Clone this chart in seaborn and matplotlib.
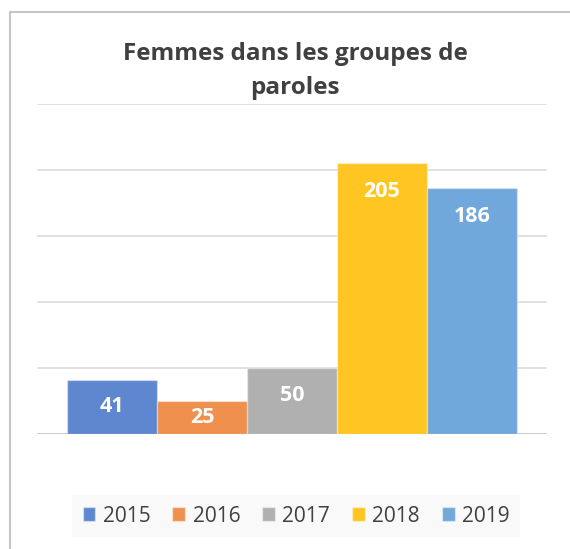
import matplotlib
matplotlib.use("Agg")
import matplotlib.pyplot as plt
from matplotlib.patches import Patch
from matplotlib.lines import Line2D
import seaborn as sns
import pandas as pd

# Data
years = ["2015", "2016", "2017", "2018", "2019"]
values = [41, 25, 50, 205, 186]
colors = ["#5f87cf", "#f0904f", "#b0b0b0", "#ffc623", "#70a8db"]
title = "Femmes dans les groupes de\nparoles"
y_ticks = [0, 50, 100, 150, 200, 250]

sns.set_theme(style="white")
plt.rcParams["font.family"] = ["Open Sans", "DejaVu Sans"]

df = pd.DataFrame({"annee": years, "valeur": values})

fig = plt.figure(figsize=(5.70, 5.49), dpi=100)
ax = fig.add_axes([37 / 570, 1 - 434 / 549, 510 / 570, 330 / 549])

sns.barplot(data=df, x="annee", y="valeur", hue="annee", palette=colors,
            width=1.0, saturation=1, legend=False, ax=ax,
            edgecolor=(1, 1, 1, 0.35), linewidth=1, zorder=3)

ax.set_ylim(0, 250)
ax.set_xlim(-0.5 - 1 / 3, 4.5 + 1 / 3)
for t in y_ticks:
    ax.axhline(t, color="#d9d9d9" if t else "#bfbfbf", lw=1.1, zorder=1)
ax.set_yticks([])
ax.set_xticks([])
ax.set_xlabel("")
ax.set_ylabel("")
for s in ax.spines.values():
    s.set_visible(False)

# Value labels inside the bar end
for i, v in enumerate(values):
    ax.text(i, max(v - 21, v / 2), str(v), ha="center", va="center",
            color="white", fontsize=15.5, fontweight="bold", zorder=4)

fig.text(295 / 570, 1 - 71 / 549, title, ha="center", va="center",
         fontsize=17.5, fontweight="bold", color="#404040", linespacing=1.55)

handles = [Patch(facecolor=c, edgecolor=(1, 1, 1, 0.4), label=y)
           for c, y in zip(colors, years)]
leg = fig.legend(handles=handles, loc="center", ncol=5,
                 bbox_to_anchor=(296 / 570, 1 - 516 / 549),
                 frameon=True, fontsize=15, handlelength=0.62,
                 handleheight=0.62, handletextpad=0.35, columnspacing=1.05,
                 borderpad=0.5, labelcolor="#404040")
leg.get_frame().set_facecolor("#f8f8f8")
leg.get_frame().set_edgecolor("none")
leg.get_frame().set_boxstyle("square", pad=0)

# Chart border (top and left edges visible)
fig.add_artist(Line2D([10 / 570, 10 / 570], [0, 1 - 12 / 549],
                      transform=fig.transFigure, color="#c6c6c6", lw=1.5))
fig.add_artist(Line2D([10 / 570, 1], [1 - 12 / 549, 1 - 12 / 549],
                      transform=fig.transFigure, color="#c6c6c6", lw=1.5))

fig.savefig("out.png", dpi=100)
